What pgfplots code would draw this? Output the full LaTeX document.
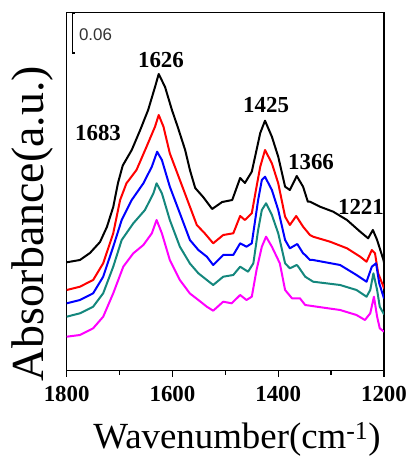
\documentclass[border=0pt]{standalone}
\usepackage{pgfplots}
\pgfplotsset{compat=1.18}
\usepackage{fontspec}
\setmainfont{Liberation Serif}
\setsansfont{Liberation Sans}
\definecolor{myteal}{RGB}{20,135,125}
\definecolor{myred}{RGB}{255,0,0}
\definecolor{myblue}{RGB}{0,0,255}
\definecolor{mymag}{RGB}{255,0,255}
\tikzset{curve/.style={line width=2bp, line join=round, mark=none}}
\begin{document}
\begin{tikzpicture}
\begin{axis}[
  at={(0,0)}, anchor=south west,
  scale only axis, width=317.3bp, height=357.8bp,
  xmin=1200, xmax=1800, x dir=reverse,
  ymin=0, ymax=357.8,
  ytick=\empty,
  xtick={1200,1400,1600,1800},
  minor xtick={1300,1500,1700},
  xtick pos=bottom,
  tick align=outside,
  major tick length=6bp, minor tick length=4bp,
  axis line style={line width=1.5bp},
  every tick/.style={black, line width=1.4bp},
  /pgf/number format/assume math mode=true,
  /pgf/number format/1000 sep={},
  xticklabel style={font=\fontsize{23}{23}\selectfont\bfseries, inner sep=0pt, anchor=north, yshift=-10bp},
  clip=true,
]
% black
\addplot[curve, black] coordinates {
(1800,108.2)(1775,110.5)(1756,117.5)(1737,128.5)(1724,143.5)(1712,163.5)(1703,187.5)(1694,205)
(1677,220.5)(1661,240.5)(1646,260.5)(1633,283.5)(1626,296.5)(1614,283.5)(1601,260.5)(1590,243.5)
(1576,220.5)(1567,200.5)(1557,182.5)(1542,173.5)(1525,161.5)(1506,168.5)(1487,170.5)(1472,192.5)
(1463,187.5)(1450,198.8)(1441,220.5)(1434,237.5)(1425,249.8)(1412,233.8)(1400,213.8)(1387,183.8)
(1378,180.5)(1365,194.5)(1353,183.8)(1344,168.8)(1340,168.8)(1321,163.8)(1296,158.8)(1270,150.5)
(1245,138.8)(1230,132.2)(1221,140.5)(1213,130.5)(1201,110.5)(1200,108)
};
% red
\addplot[curve, myred] coordinates {
(1800,80.5)(1775,83.8)(1750,90.5)(1731,107.2)(1712,137.2)(1699,170.5)(1687,187.2)(1668,200.5)
(1649,223.8)(1633,243.8)(1626,255.5)(1617,243.8)(1605,217.2)(1586,190.5)(1567,163.8)(1554,145.5)
(1539,137.2)(1523,127.2)(1504,135.5)(1485,137.2)(1472,154.5)(1463,150.5)(1450,157.2)(1441,183.8)
(1434,203.8)(1425,220.5)(1412,207.2)(1400,187.2)(1387,153.8)(1378,145.5)(1366,154.5)(1353,143.8)
(1340,135.5)(1334,133.8)(1302,128.8)(1270,122.2)(1245,113.8)(1233,108.8)(1223,120.5)(1217,117.2)
(1211,97.2)(1201,83.8)(1200,82)
};
% blue
\addplot[curve, myblue] coordinates {
(1800,67.2)(1775,70.5)(1750,77.2)(1731,93.8)(1712,123.8)(1696,150.5)(1677,170.5)(1655,187.2)
(1639,203.8)(1629,218.8)(1620,210.5)(1605,183.8)(1586,157.2)(1567,130.5)(1551,120.5)(1535,113.8)
(1523,105.5)(1504,115.5)(1485,115.5)(1472,127.2)(1460,123.8)(1450,127.2)(1438,170.5)(1431,190.5)
(1425,193.8)(1412,180.5)(1400,160.5)(1387,130.5)(1378,122.2)(1364,126.5)(1353,117.2)(1349,115.5)
(1340,110.5)(1334,110.5)(1283,105.5)(1252,95.5)(1233,88.8)(1223,103.8)(1215,107.2)(1209,87.2)
(1201,73.8)(1200,72)
};
% teal
\addplot[curve, myteal] coordinates {
(1800,53.8)(1775,57.2)(1750,63.8)(1731,77.2)(1712,103.8)(1696,130.5)(1674,147.2)(1652,160.5)
(1636,177.2)(1630,187.2)(1620,177.2)(1605,150.5)(1586,123.8)(1567,107)(1551,97.2)(1535,90.5)
(1523,85.5)(1504,93.8)(1485,95.5)(1472,103.8)(1457,98.8)(1447,107.2)(1438,140.5)(1431,160.5)
(1423,167.2)(1412,155.5)(1400,137.2)(1387,107.2)(1378,102.2)(1365,105.5)(1362,103.8)(1349,93.8)
(1334,88.8)(1283,85.5)(1252,80.5)(1233,73.8)(1226,80.5)(1220,97.2)(1213,80.5)(1208,63.8)
(1201,57.2)(1200,56)
};
% magenta
\addplot[curve, mymag] coordinates {
(1800,33.8)(1775,35.5)(1750,42.2)(1731,53.8)(1712,77.2)(1693,103.8)(1674,117.2)(1655,125.5)
(1639,137.2)(1630,150.5)(1620,137.2)(1605,110.5)(1586,90.5)(1567,77)(1551,70.5)(1535,63.8)
(1523,59.8)(1504,68.8)(1488,67.2)(1472,75.5)(1460,70.5)(1450,73.8)(1441,100.5)(1431,123.8)
(1423,133.8)(1412,123.8)(1397,107.2)(1387,80.5)(1374,72.2)(1359,72.2)(1349,65.5)(1327,63.8)
(1283,60.5)(1252,55.5)(1236,50.5)(1226,57.2)(1219,73.8)(1213,53.8)(1208,42.2)(1200,38.8)
};
% scale bar
\draw[line width=1.2bp] (axis cs:1785,357.3) -- (axis cs:1789,357.3) -- (axis cs:1789,317.5) -- (axis cs:1785,317.5);
\node[anchor=west, inner sep=0pt, font=\sffamily\fontsize{17}{17}\selectfont, text=black!80] at (axis cs:1777,335.5) {0.06};
% peak labels
\begin{scope}[every node/.style={font=\fontsize{23}{23}\selectfont\bfseries, inner sep=0pt}]
\node at (axis cs:1621.7,310.5) {1626};
\node at (axis cs:1740.8,237.5) {1683};
\node at (axis cs:1423,265.5) {1425};
\node at (axis cs:1338,208.5) {1366};
\node at (axis cs:1243.5,163.5) {1221};
\end{scope}
\end{axis}
\node[anchor=base, inner sep=0pt, font=\fontsize{37}{37}\selectfont] at (170.3bp,-77.5bp) {Wavenumber(cm\textsuperscript{-1})};
\node[anchor=base, rotate=90, inner sep=0pt, font=\fontsize{46}{46}\selectfont] at (-23.7bp,146.5bp) {Absorbance(a.u.)};
\pgfresetboundingbox
\path[use as bounding box] (-66.7bp,-87.5bp) rectangle (347.3bp,370.5bp);
\end{tikzpicture}
\end{document}
